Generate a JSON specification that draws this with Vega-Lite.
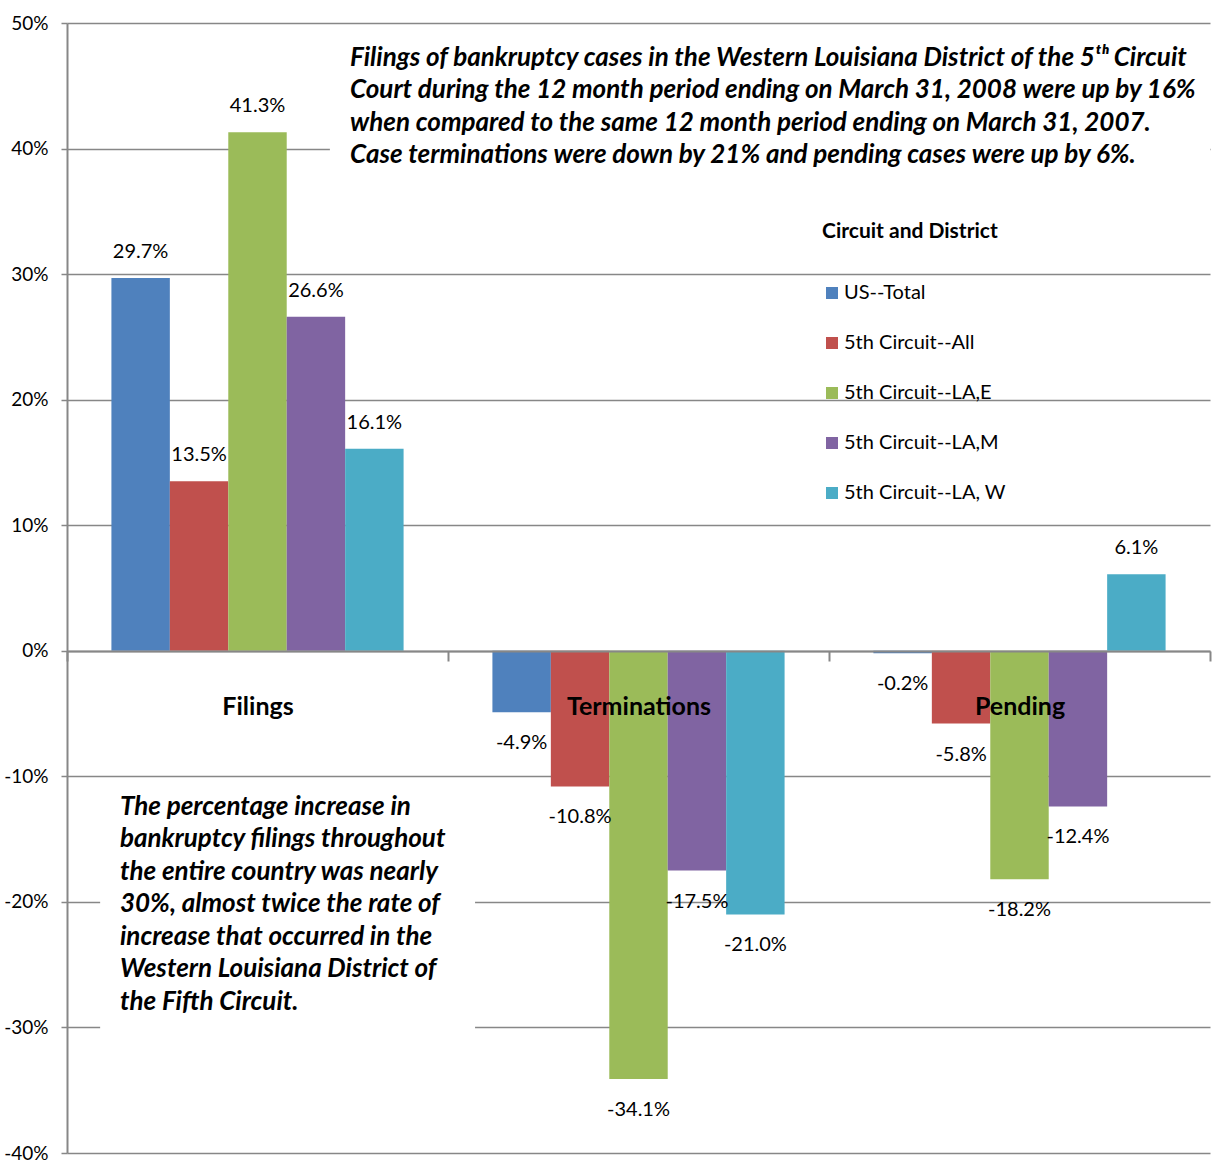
{
  "$schema": "https://vega.github.io/schema/vega-lite/v6.json",
  "width": 1143,
  "height": 1130,
  "autosize": {"type": "none"},
  "padding": {"left": 67, "top": 23, "right": 6, "bottom": 9},
  "background": "white",
  "config": {
    "view": {"stroke": null},
    "font": "Lato",
    "axis": {"domainColor": "#878787", "tickColor": "#878787", "gridColor": "#878787", "labelColor": "black"}
  },
  "layer": [
    {
      "data": {
        "values": [
          {"cat": "Filings", "series": "US--Total", "v": 29.7},
          {"cat": "Filings", "series": "5th Circuit--All", "v": 13.5},
          {"cat": "Filings", "series": "5th Circuit--LA,E", "v": 41.3},
          {"cat": "Filings", "series": "5th Circuit--LA,M", "v": 26.6},
          {"cat": "Filings", "series": "5th Circuit--LA, W", "v": 16.1},
          {"cat": "Terminations", "series": "US--Total", "v": -4.9},
          {"cat": "Terminations", "series": "5th Circuit--All", "v": -10.8},
          {"cat": "Terminations", "series": "5th Circuit--LA,E", "v": -34.1},
          {"cat": "Terminations", "series": "5th Circuit--LA,M", "v": -17.5},
          {"cat": "Terminations", "series": "5th Circuit--LA, W", "v": -21.0},
          {"cat": "Pending", "series": "US--Total", "v": -0.2},
          {"cat": "Pending", "series": "5th Circuit--All", "v": -5.8},
          {"cat": "Pending", "series": "5th Circuit--LA,E", "v": -18.2},
          {"cat": "Pending", "series": "5th Circuit--LA,M", "v": -12.4},
          {"cat": "Pending", "series": "5th Circuit--LA, W", "v": 6.1}
        ]
      },
      "transform": [
        {"calculate": "(datum.v < 0 ? '-' : '') + format(abs(datum.v), '.1f') + '%'", "as": "label"}
      ],
      "encoding": {
        "x": {
          "field": "cat", "type": "nominal",
          "sort": ["Filings", "Terminations", "Pending"],
          "scale": {"paddingInner": 0, "paddingOuter": 0},
          "axis": {
            "title": null, "orient": "bottom", "offset": -502, "zindex": 1,
            "domainWidth": 2, "tickBand": "extent", "tickSize": 10, "tickWidth": 2,
            "labelAngle": 0, "labelFontSize": 25, "labelFontWeight": "bold",
            "labelBaseline": "middle", "labelPadding": 45, "labelFont": "Lato"
          }
        },
        "xOffset": {
          "field": "series", "type": "nominal",
          "sort": ["US--Total", "5th Circuit--All", "5th Circuit--LA,E", "5th Circuit--LA,M", "5th Circuit--LA, W"],
          "scale": {"paddingInner": 0, "paddingOuter": 0.76}
        },
        "y": {
          "field": "v", "type": "quantitative",
          "scale": {"domain": [-40, 50], "nice": false, "zero": false},
          "axis": {
            "title": null, "values": [-40, -30, -20, -10, 0, 10, 20, 30, 40, 50],
            "labelExpr": "datum.value + '%'", "grid": true, "gridWidth": 1.5,
            "domainWidth": 2, "tickSize": 6, "tickWidth": 1.5, "labelPadding": 13,
            "labelFontSize": 19, "labelFont": "Lato"
          }
        }
      },
      "layer": [
        {
          "mark": {"type": "bar"},
          "encoding": {
            "color": {
              "field": "series", "type": "nominal",
              "sort": ["US--Total", "5th Circuit--All", "5th Circuit--LA,E", "5th Circuit--LA,M", "5th Circuit--LA, W"],
              "scale": {
                "domain": ["US--Total", "5th Circuit--All", "5th Circuit--LA,E", "5th Circuit--LA,M", "5th Circuit--LA, W"],
                "range": ["#4F81BD", "#C0504D", "#9BBB59", "#8064A2", "#4BACC6"]
              },
              "legend": {
                "orient": "none", "legendX": 755, "legendY": 198,
                "title": "Circuit and District", "titleFont": "Lato", "titleLimit": 500,
                "titleFontSize": 21, "titleFontWeight": "bold", "titleColor": "black",
                "titlePadding": 41, "labelFont": "Lato", "labelFontSize": 20, "labelLimit": 500,
                "labelColor": "black", "symbolType": "square", "symbolSize": 144,
                "symbolStrokeWidth": 0, "rowPadding": 30, "labelOffset": 2,
                "padding": 0, "offset": 0, "symbolOffset": 0
              }
            }
          }
        },
        {
          "transform": [{"filter": "datum.v >= 0"}],
          "mark": {"type": "text", "baseline": "middle", "dy": -26, "fontSize": 20, "font": "Lato", "color": "black"},
          "encoding": {"text": {"field": "label"}}
        },
        {
          "transform": [{"filter": "datum.v < 0"}],
          "mark": {"type": "text", "baseline": "middle", "dy": 31, "fontSize": 20, "font": "Lato", "color": "black"},
          "encoding": {"text": {"field": "label"}}
        }
      ]
    },
    {
      "data": {"values": [{}]},
      "layer": [
        {
          "mark": {"type": "rect", "color": "white"},
          "encoding": {
            "x": {"datum": 0.69, "type": "quantitative", "scale": {"domain": [0, 3], "nice": false, "zero": false}, "axis": null},
            "x2": {"datum": 3},
            "y": {"datum": 48.8, "type": "quantitative"},
            "y2": {"datum": 37.9}
          }
        },
        {
          "mark": {"type": "rect", "color": "white"},
          "encoding": {
            "x": {"datum": 0.087, "type": "quantitative", "axis": null},
            "x2": {"datum": 1.071},
            "y": {"datum": -10.2, "type": "quantitative"},
            "y2": {"datum": -30.3}
          }
        },
        {
          "mark": {"type": "text", "align": "left", "baseline": "alphabetic", "font": "Lato", "fontSize": 26, "fontWeight": "bold", "fontStyle": "italic", "lineHeight": 32.5, "color": "black"},
          "encoding": {
            "x": {"datum": 0.743, "type": "quantitative", "axis": null},
            "y": {"datum": 46.6, "type": "quantitative"},
            "text": {"value": [
              "Filings of bankruptcy cases in the Western Louisiana District of the 5ᵗʰ Circuit",
              "Court during the 12 month period ending on March 31, 2008 were up by 16%",
              "when compared to the same 12 month period ending on March 31, 2007.",
              "Case terminations were down by 21% and pending cases were up by 6%."
            ]}
          }
        },
        {
          "mark": {"type": "text", "align": "left", "baseline": "alphabetic", "font": "Lato", "fontSize": 26, "fontWeight": "bold", "fontStyle": "italic", "lineHeight": 32.5, "color": "black"},
          "encoding": {
            "x": {"datum": 0.139, "type": "quantitative", "axis": null},
            "y": {"datum": -13.05, "type": "quantitative"},
            "text": {"value": [
              "The percentage increase in",
              "bankruptcy filings throughout",
              "the entire country was nearly",
              "30%, almost twice the rate of",
              "increase that occurred in the",
              "Western Louisiana District of",
              "the Fifth Circuit."
            ]}
          }
        }
      ]
    }
  ],
  "resolve": {"scale": {"x": "independent"}}
}
